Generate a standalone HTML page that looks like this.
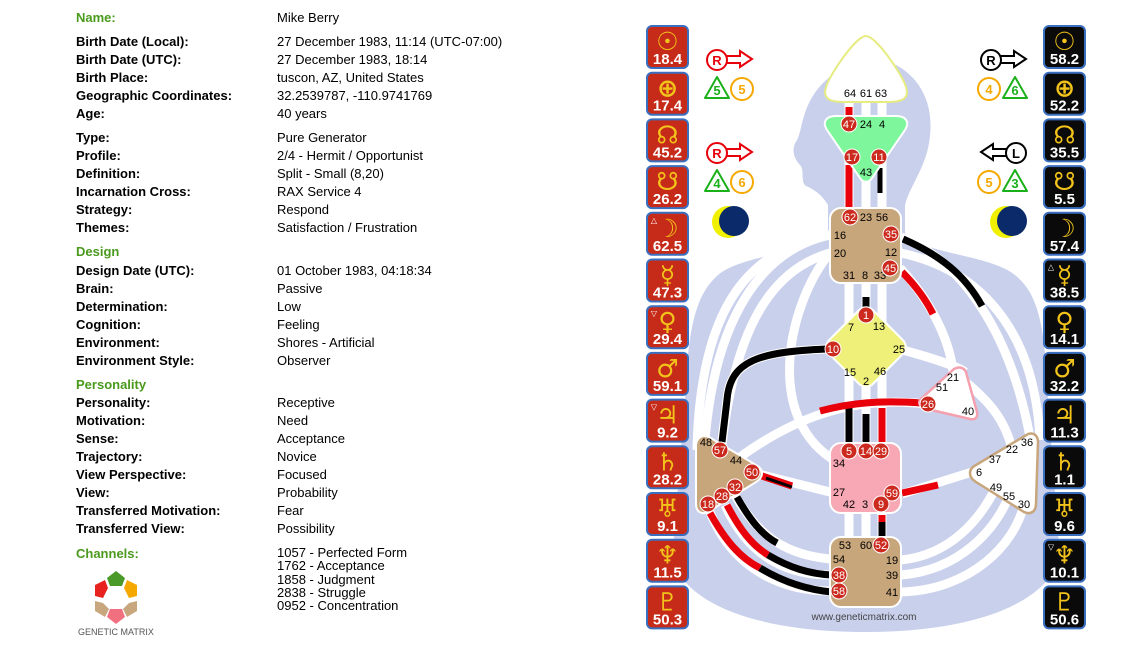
<!DOCTYPE html>
<html><head><meta charset="utf-8"><style>
html,body{margin:0;padding:0;background:#fff;width:1140px;height:660px;overflow:hidden;font-family:"Liberation Sans",Arial,sans-serif}
.t{position:absolute;font-size:13px;line-height:15px;white-space:nowrap;color:#000}
.l{left:76px;font-weight:bold}
.v{left:277px}
.g{color:#4a9a1e;font-weight:bold;left:76px}
svg{position:absolute;left:0;top:0}
</style></head><body>
<div class="t g" style="top:10px">Name:</div><div class="t v" style="top:10px">Mike Berry</div>
<div class="t l" style="top:34px">Birth Date (Local):</div><div class="t v" style="top:34px">27 December 1983, 11:14 (UTC-07:00)</div>
<div class="t l" style="top:52px">Birth Date (UTC):</div><div class="t v" style="top:52px">27 December 1983, 18:14</div>
<div class="t l" style="top:70px">Birth Place:</div><div class="t v" style="top:70px">tuscon, AZ, United States</div>
<div class="t l" style="top:88px">Geographic Coordinates:</div><div class="t v" style="top:88px">32.2539787, -110.9741769</div>
<div class="t l" style="top:106px">Age:</div><div class="t v" style="top:106px">40 years</div>
<div class="t l" style="top:130px">Type:</div><div class="t v" style="top:130px">Pure Generator</div>
<div class="t l" style="top:148px">Profile:</div><div class="t v" style="top:148px">2/4 - Hermit / Opportunist</div>
<div class="t l" style="top:166px">Definition:</div><div class="t v" style="top:166px">Split - Small (8,20)</div>
<div class="t l" style="top:184px">Incarnation Cross:</div><div class="t v" style="top:184px">RAX Service 4</div>
<div class="t l" style="top:202px">Strategy:</div><div class="t v" style="top:202px">Respond</div>
<div class="t l" style="top:220px">Themes:</div><div class="t v" style="top:220px">Satisfaction / Frustration</div>
<div class="t g" style="top:244px">Design</div>
<div class="t l" style="top:263px">Design Date (UTC):</div><div class="t v" style="top:263px">01 October 1983, 04:18:34</div>
<div class="t l" style="top:281px">Brain:</div><div class="t v" style="top:281px">Passive</div>
<div class="t l" style="top:299px">Determination:</div><div class="t v" style="top:299px">Low</div>
<div class="t l" style="top:317px">Cognition:</div><div class="t v" style="top:317px">Feeling</div>
<div class="t l" style="top:335px">Environment:</div><div class="t v" style="top:335px">Shores - Artificial</div>
<div class="t l" style="top:353px">Environment Style:</div><div class="t v" style="top:353px">Observer</div>
<div class="t g" style="top:377px">Personality</div>
<div class="t l" style="top:395px">Personality:</div><div class="t v" style="top:395px">Receptive</div>
<div class="t l" style="top:413px">Motivation:</div><div class="t v" style="top:413px">Need</div>
<div class="t l" style="top:431px">Sense:</div><div class="t v" style="top:431px">Acceptance</div>
<div class="t l" style="top:449px">Trajectory:</div><div class="t v" style="top:449px">Novice</div>
<div class="t l" style="top:467px">View Perspective:</div><div class="t v" style="top:467px">Focused</div>
<div class="t l" style="top:485px">View:</div><div class="t v" style="top:485px">Probability</div>
<div class="t l" style="top:503px">Transferred Motivation:</div><div class="t v" style="top:503px">Fear</div>
<div class="t l" style="top:521px">Transferred View:</div><div class="t v" style="top:521px">Possibility</div>
<div class="t g" style="top:546px">Channels:</div>
<div class="t v" style="top:546px;line-height:13.3px">1057 - Perfected Form<br>1762 - Acceptance<br>1858 - Judgment<br>2838 - Struggle<br>0952 - Concentration</div>
<div class="t" style="left:78px;top:625px;font-size:9px;color:#555">GENETIC MATRIX</div>

<svg width="1140" height="660" viewBox="0 0 1140 660" font-family="Liberation Sans, Arial, sans-serif">
<g transform="translate(116,600)">
<polygon points="-9,-22 0,-29 9,-22 6,-14 -6,-14" fill="#4a9a2a"/>
<polygon points="11,-20 21,-15 21,-4 13,-2 8,-12" fill="#f5a800"/>
<polygon points="21,1 21,11 11,17 7,9 13,3" fill="#c8a77e"/>
<polygon points="-9,17 0,24 9,17 6,9 -6,9" fill="#f07080"/>
<polygon points="-21,1 -21,11 -11,17 -7,9 -13,3" fill="#c8a77e"/>
<polygon points="-11,-20 -21,-15 -21,-4 -13,-2 -8,-12" fill="#e8231f"/>
</g>
<path d="M866 58 C905 58 935 90 930 135 C928 165 910 185 905 205 L905 235 C930 255 990 255 1015 275 C1040 295 1045 330 1048 400 L1060 560 C1040 610 960 632 866 632 C770 632 690 610 672 560 L685 400 C688 330 695 295 718 275 C742 255 800 255 828 235 L828 205 C822 195 815 190 806 186 C800 182 805 170 800 165 C795 160 790 150 797 140 C805 125 800 80 866 58 Z" fill="#c9d0ec"/>
<g stroke="#fff" stroke-width="9" fill="none">
<path d="M849 100V120M866 100V120M882 100V120"/>
<path d="M849 160V210M866 175V210M882 160V210"/>
<path d="M849 280V330M866 280V320M882 280V330"/>
<path d="M849 370V450M866 380V450M882 370V450"/>
<path d="M849 510V540M866 510V540M882 510V540"/>
<path d="M901 237 C960 260 1010 330 1030 437"/>
<path d="M900 268 C930 300 950 340 953 372"/>
<path d="M830 235 C760 250 715 320 705 440"/>
<path d="M830 253 C770 270 735 330 722 445"/>
<path d="M830 253 C790 300 760 420 839 463"/>
<path d="M826 349 C760 352 730 360 727 400 L722 440"/>
<path d="M925 404 C850 395 790 420 736 460"/>
<path d="M762 475 L830 492"/>
<path d="M902 494 L972 472"/>
<path d="M735 495 C760 540 790 555 830 559"/>
<path d="M725 505 C750 560 790 575 830 575"/>
<path d="M710 512 C735 575 790 591 830 591"/>
<path d="M901 560 C950 555 980 520 996 487"/>
<path d="M901 575 C960 570 995 530 1009 496"/>
<path d="M901 592 C970 590 1015 545 1024 504"/>
<path d="M899 349 C940 360 960 368 965 372"/>
<path d="M901 253 C980 270 1035 330 1040 440"/>
<path d="M830 235 C740 250 700 320 697 450"/>
<path d="M953 372 C990 400 1005 420 1012 449"/>
</g>
<g fill="none" stroke-width="7">
<path d="M849 107V118" stroke="#e8000b"/>
<path d="M849 165V208" stroke="#e8000b"/>
<path d="M880 168V193" stroke="#000" stroke-width="5"/>
<path d="M866 297V307" stroke="#000"/>
<path d="M849 408V443M866 414V443" stroke="#000"/>
<path d="M882 408V443" stroke="#e8000b"/>
<path d="M882 515V536" stroke="#000"/>
<path d="M882 515V522" stroke="#e8000b"/>
<path d="M903 239 C940 255 965 275 982 306" stroke="#000"/>
<path d="M902 272 C915 285 925 298 933 314" stroke="#e8000b"/>
<path d="M826 349 C760 352 730 360 727 400 L722 442" stroke="#000"/>
<path d="M922 403 C880 400 850 403 820 411" stroke="#e8000b"/>
<path d="M762 476 L792 486" stroke="#e8000b"/>
<path d="M766 478 L792 487" stroke="#000" stroke-width="3"/>
<path d="M902 493 L938 485" stroke="#e8000b"/>
<path d="M737 497 C750 520 762 535 777 543" stroke="#000"/>
<path d="M727 505 C740 530 752 545 768 555" stroke="#e8000b"/>
<path d="M768 555 C790 568 810 574 832 575" stroke="#000"/>
<path d="M710 513 C725 540 740 558 760 568" stroke="#e8000b"/>
<path d="M760 568 C785 583 810 590 832 592" stroke="#000"/>
</g>
<path d="M866 36 C856 36 830 74 826 87 C822 100 832 102 845 102 L887 102 C900 102 910 100 906 87 C902 74 876 36 866 36Z" fill="#fff" stroke="#e6ec80" stroke-width="2"/>
<path d="M836 116 L896 116 C906 116 910 122 905 130 L872 178 C869 183 863 183 860 178 L827 130 C822 122 826 116 836 116Z" fill="#7ef79c" stroke="#fff" stroke-width="2"/>
<rect x="830" y="208" width="71" height="75" rx="11" fill="#c8a67c" stroke="#fff" stroke-width="2"/>
<rect x="835" y="316" width="62" height="62" rx="10" transform="rotate(45 866 347)" fill="#eef07a" stroke="#fff" stroke-width="2"/>
<path d="M954 369 C960 366 964 368 966 372 L977 412 C978 418 975 420 970 419 L927 409 C918 407 917 401 923 397Z" fill="#fff" stroke="#f4a0ae" stroke-width="2.5"/>
<path d="M704 436 C700 436 696 440 696 446 L696 504 C696 512 702 515 708 512 L756 482 C764 477 764 469 756 465 L714 440 C710 437 707 436 704 436Z" fill="#c8a67c" stroke="#fff" stroke-width="2"/>
<rect x="830" y="443" width="71" height="70" rx="11" fill="#f8a8b4" stroke="#fff" stroke-width="2"/>
<path d="M1028 434 C1034 432 1038 436 1038 442 L1036 504 C1036 512 1030 515 1024 512 L976 482 C968 477 968 469 976 465Z" fill="#fff" stroke="#c8a67c" stroke-width="2.5"/>
<rect x="830" y="537" width="71" height="70" rx="11" fill="#c8a67c" stroke="#fff" stroke-width="2"/>
<g font-size="11" text-anchor="middle" fill="#000">
<text x="850" y="97">64</text><text x="866" y="97">61</text><text x="881" y="97">63</text>
<text x="866" y="128">24</text><text x="882" y="128">4</text><text x="866" y="176">43</text>
<text x="866" y="221">23</text><text x="882" y="221">56</text><text x="840" y="239">16</text><text x="840" y="257">20</text><text x="891" y="256">12</text>
<text x="849" y="279">31</text><text x="865" y="279">8</text><text x="880" y="279">33</text>
<text x="851" y="331">7</text><text x="879" y="330">13</text><text x="899" y="353">25</text><text x="850" y="376">15</text><text x="880" y="375">46</text><text x="866" y="385">2</text>
<text x="953" y="381">21</text><text x="942" y="391">51</text><text x="968" y="415">40</text>
<text x="706" y="446">48</text><text x="736" y="464">44</text>
<text x="839" y="467">34</text><text x="839" y="496">27</text><text x="849" y="508">42</text><text x="865" y="508">3</text>
<text x="1027" y="446">36</text><text x="1012" y="453">22</text><text x="995" y="463">37</text><text x="979" y="476">6</text><text x="996" y="491">49</text><text x="1009" y="500">55</text><text x="1024" y="508">30</text>
<text x="845" y="549">53</text><text x="866" y="549">60</text><text x="839" y="563">54</text><text x="892" y="564">19</text><text x="892" y="579">39</text><text x="892" y="596">41</text>
</g>
<g fill="#cc2a1e" stroke="#fff" stroke-width="1">
<circle cx="849" cy="124" r="8"/><circle cx="852" cy="157" r="8"/><circle cx="879" cy="157" r="8"/>
<circle cx="850" cy="217" r="8"/><circle cx="891" cy="234" r="8"/><circle cx="890" cy="268" r="8"/>
<circle cx="866" cy="315" r="8"/><circle cx="833" cy="349" r="8"/><circle cx="928" cy="404" r="8"/>
<circle cx="720" cy="450" r="8"/><circle cx="752" cy="472" r="8"/><circle cx="735" cy="487" r="8"/><circle cx="722" cy="496" r="8"/><circle cx="708" cy="504" r="8"/>
<circle cx="849" cy="451" r="8"/><circle cx="866" cy="451" r="8"/><circle cx="881" cy="451" r="8"/><circle cx="892" cy="493" r="8"/><circle cx="881" cy="504" r="8"/>
<circle cx="881" cy="545" r="8"/><circle cx="839" cy="575" r="8"/><circle cx="839" cy="591" r="8"/>
</g>
<g font-size="11" text-anchor="middle" fill="#fff">
<text x="849" y="128">47</text><text x="852" y="161">17</text><text x="879" y="161">11</text>
<text x="850" y="221">62</text><text x="891" y="238">35</text><text x="890" y="272">45</text>
<text x="866" y="319">1</text><text x="833" y="353">10</text><text x="928" y="408">26</text>
<text x="720" y="454">57</text><text x="752" y="476">50</text><text x="735" y="491">32</text><text x="722" y="500">28</text><text x="708" y="508">18</text>
<text x="849" y="455">5</text><text x="866" y="455">14</text><text x="881" y="455">29</text><text x="892" y="497">59</text><text x="881" y="508">9</text>
<text x="881" y="549">52</text><text x="839" y="579">38</text><text x="839" y="595">58</text>
</g>
<text x="864" y="620" font-size="10" fill="#444" text-anchor="middle">www.geneticmatrix.com</text>
<g fill="none" stroke-width="2">
<circle cx="717" cy="60" r="10" stroke="#e8000b"/><path d="M727 56 L740 56 L740 51 L752 59 L740 67 L740 63 L727 63" stroke="#e8000b"/>
<circle cx="717" cy="153" r="10" stroke="#e8000b"/><path d="M727 149 L740 149 L740 144 L752 152 L740 160 L740 156 L727 156" stroke="#e8000b"/>
<circle cx="991" cy="60" r="10" stroke="#000"/><path d="M1001 56 L1014 56 L1014 51 L1026 59 L1014 67 L1014 63 L1001 63" stroke="#000"/>
<circle cx="1016" cy="153" r="10" stroke="#000"/><path d="M1006 149 L993 149 L993 144 L981 152 L993 160 L993 156 L1006 156" stroke="#000"/>
<path d="M717 77 L729 98 L705 98Z" stroke="#1ab01a" stroke-linejoin="round"/><circle cx="742" cy="89" r="11" stroke="#f5a800"/>
<path d="M717 170 L729 191 L705 191Z" stroke="#1ab01a" stroke-linejoin="round"/><circle cx="742" cy="182" r="11" stroke="#f5a800"/>
<circle cx="989" cy="89" r="11" stroke="#f5a800"/><path d="M1015 77 L1027 98 L1003 98Z" stroke="#1ab01a" stroke-linejoin="round"/>
<circle cx="989" cy="182" r="11" stroke="#f5a800"/><path d="M1015 170 L1027 191 L1003 191Z" stroke="#1ab01a" stroke-linejoin="round"/>
</g>
<g font-size="13" font-weight="bold" text-anchor="middle">
<text x="717" y="65" fill="#e8000b">R</text><text x="717" y="158" fill="#e8000b">R</text>
<text x="991" y="65" fill="#000">R</text><text x="1016" y="158" fill="#000">L</text>
<text x="717" y="95" fill="#1ab01a">5</text><text x="742" y="94" fill="#f5a800">5</text>
<text x="717" y="188" fill="#1ab01a">4</text><text x="742" y="187" fill="#f5a800">6</text>
<text x="989" y="94" fill="#f5a800">4</text><text x="1015" y="95" fill="#1ab01a">6</text>
<text x="989" y="187" fill="#f5a800">5</text><text x="1015" y="188" fill="#1ab01a">3</text>
</g>
<circle cx="728" cy="222" r="16" fill="#f0f000"/><circle cx="734" cy="221" r="15" fill="#0a2a6a"/>
<circle cx="1006" cy="222" r="16" fill="#f0f000"/><circle cx="1012" cy="221" r="15" fill="#0a2a6a"/>
<g id="boxes" font-weight="bold" text-anchor="middle"></g>
</svg>
<script>
var g=["☉","⊕","☊","☋","☽","☿","♀","♂","♃","♄","♅","♆","♇"];
var L=["18.4","17.4","45.2","26.2","62.5","47.3","29.4","59.1","9.2","28.2","9.1","11.5","50.3"];
var R=["58.2","52.2","35.5","5.5","57.4","38.5","14.1","32.2","11.3","1.1","9.6","10.1","50.6"];
var lm={4:"△",6:"▽",8:"▽"},rm={5:"△",11:"▽"};
var s="";
function box(x,y,fill,glyph,val,mark){
 s+='<rect x="'+x+'" y="'+y+'" width="41" height="42" rx="5" fill="'+fill+'" stroke="#3a6fc0" stroke-width="2"/>';
 s+='<text x="'+(x+20.5)+'" y="'+(y+24)+'" font-size="25" fill="#f2c31a" font-family="DejaVu Sans, sans-serif">'+glyph+'</text>';
 s+='<text x="'+(x+20.5)+'" y="'+(y+38)+'" font-size="15" fill="#fff">'+val+'</text>';
 if(mark) s+='<text x="'+(x+7)+'" y="'+(y+10)+'" font-size="8" fill="#fff" font-weight="normal" font-family="DejaVu Sans, sans-serif">'+mark+'</text>';
}
for(var i=0;i<13;i++){var y=26+i*46.7;box(647,y,"#c62a18",g[i],L[i],lm[i]);box(1044,y,"#0a0a0a",g[i],R[i],rm[i]);}
document.getElementById("boxes").innerHTML=s;
</script>
</body></html>
